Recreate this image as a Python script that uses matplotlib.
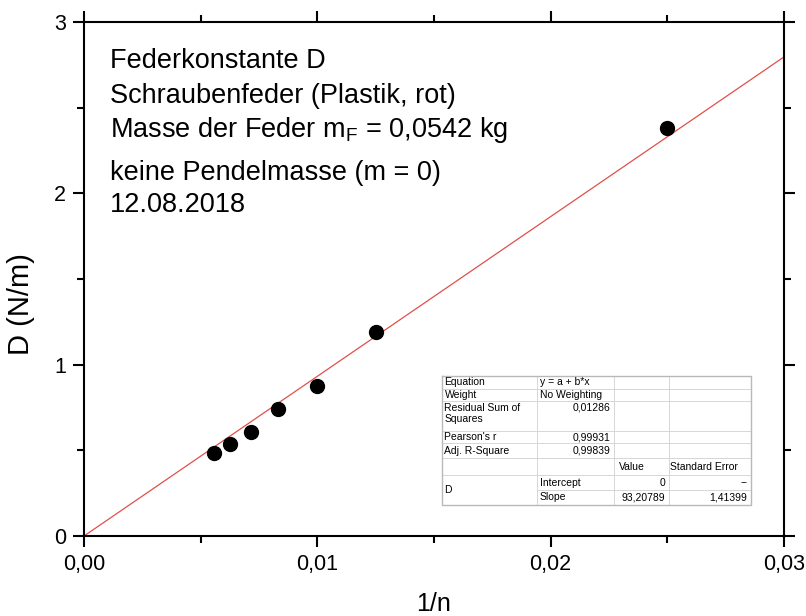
"""Federkonstante D gegen 1/n, Schraubenfeder (Plastik, rot), mit Fit-Tabelle."""
import matplotlib

matplotlib.use("Agg")
import matplotlib.pyplot as plt  # noqa: E402
from matplotlib.ticker import FixedLocator, FuncFormatter, MultipleLocator  # noqa: E402

# Messwerte
inv_n = [1 / 180, 1 / 160, 1 / 140, 1 / 120, 1 / 100, 1 / 80, 1 / 40]
D_vals = [0.486, 0.535, 0.607, 0.740, 0.874, 1.191, 2.382]

# Fit y = a + b*x
fit_intercept = 0.0
fit_slope = 93.20789
fit_x = [0.0, 0.03]

x_ticks = [0.0, 0.01, 0.02, 0.03]
y_ticks = [0, 1, 2, 3]

info_lines = [
    "Federkonstante D",
    "Schraubenfeder (Plastik, rot)",
    r"Masse der Feder m$_\mathregular{F}$ = 0,0542 kg",
    "keine Pendelmasse (m = 0)",
    "12.08.2018",
]

# Tabelle (Zeilen: Spalte1, Spalte2, Spalte3, Spalte4)
tbl_col1 = ["Equation", "Weight", "Residual Sum of\nSquares", "Pearson's r",
            "Adj. R-Square", "", "D", ""]
tbl_col2 = ["y = a + b*x", "No Weighting", "0,01286", "0,99931", "0,99839",
            "", "Intercept", "Slope"]
tbl_col3 = ["", "", "", "", "", "Value", "0", "93,20789"]
tbl_col4 = ["", "", "", "", "", "Standard Error", "--", "1,41399"]

W, H = 806, 616
plt.rcParams["font.family"] = ["Liberation Sans", "DejaVu Sans"]
plt.rcParams["mathtext.fontset"] = "custom"
plt.rcParams["mathtext.rm"] = "Liberation Sans"

fig = plt.figure(figsize=(W / 100, H / 100), dpi=100)
ax_l, ax_r, ax_t, ax_b = 84, 784, 22, 536
ax = fig.add_axes([ax_l / W, 1 - ax_b / H, (ax_r - ax_l) / W, (ax_b - ax_t) / H])

ax.plot(fit_x, [fit_intercept + fit_slope * x for x in fit_x],
        color="#e0504a", linewidth=0.9, zorder=2)
ax.plot(inv_n, D_vals, "o", color="black", markersize=10, zorder=3)

ax.set_xlim(0, 0.03)
ax.set_ylim(0, 3)
ax.xaxis.set_major_locator(FixedLocator(x_ticks))
ax.xaxis.set_minor_locator(MultipleLocator(0.005))
ax.yaxis.set_major_locator(FixedLocator(y_ticks))
ax.yaxis.set_minor_locator(MultipleLocator(0.5))
ax.xaxis.set_major_formatter(FuncFormatter(lambda v, p: f"{v:.2f}".replace(".", ",")))
ax.yaxis.set_major_formatter(FuncFormatter(lambda v, p: f"{v:.0f}"))
ax.tick_params(which="both", direction="out", top=True, right=True,
               width=1.5, labelsize=15.5, pad=5)
ax.tick_params(which="major", length=8)
ax.tick_params(which="minor", length=5)
for s in ax.spines.values():
    s.set_linewidth(1.5)

ax.set_xlabel("1/n", fontsize=18, va="top")
ax.xaxis.set_label_coords(0.5, (ax_b - 592) / (ax_b - ax_t))
ax.set_ylabel("D (N/m)", fontsize=21)
ax.yaxis.set_label_coords((35 - ax_l) / (ax_r - ax_l), (ax_b - 304) / (ax_b - ax_t))

# Beschriftung oben links
baselines = [68, 103, 137, 180, 212]
for txt, by in zip(info_lines, baselines):
    ax.text((110 - ax_l) / (ax_r - ax_l), (ax_b - by) / (ax_b - ax_t), txt,
            transform=ax.transAxes, fontsize=19.5, va="baseline", ha="left")

# Fit-Tabelle, in Pixelkoordinaten gezeichnet
tx = [441.5, 537, 613.5, 668.5, 750.5]
ty = [376, 388.5, 401, 431, 443, 458, 475, 490, 505]
tab = fig.add_axes([tx[0] / W, 1 - ty[-1] / H, (tx[-1] - tx[0]) / W, (ty[-1] - ty[0]) / H])
tab.set_xlim(tx[0], tx[-1])
tab.set_ylim(ty[-1], ty[0])
tab.axis("off")
tab.fill_between([tx[0], tx[-1]], ty[0], ty[-1], color="white", zorder=0)
grid_c = "#d6d6d6"
for i, y in enumerate(ty[1:-1], start=1):
    # zwischen Intercept und Slope ist die erste Spalte verbunden
    x_start = tx[1] if i == 7 else tx[0]
    tab.plot([x_start, tx[-1]], [y, y], color=grid_c, linewidth=0.7)
for x in tx[1:-1]:
    tab.plot([x, x], [ty[0], ty[-1]], color=grid_c, linewidth=0.7)
tab.plot([tx[0], tx[-1], tx[-1], tx[0], tx[0]], [ty[0], ty[0], ty[-1], ty[-1], ty[0]],
         color="#b8b8b8", linewidth=1.0, clip_on=False)

fs = 7.5
for i in range(8):
    y0, y1 = ty[i], ty[i + 1]
    yc = (y0 + y1) / 2
    if i == 2:
        ytop = y0 + 6.5
        tab.text(tx[0] + 3, y0 + 2, tbl_col1[i], fontsize=fs, va="top", ha="left",
                 linespacing=1.15)
        tab.text(tx[2] - 3, ytop, tbl_col2[i], fontsize=fs, va="center", ha="right")
        continue
    if i == 6:
        tab.text(tx[0] + 3, (ty[6] + ty[8]) / 2, tbl_col1[i], fontsize=fs,
                 va="center", ha="left")
    elif tbl_col1[i]:
        tab.text(tx[0] + 3, yc, tbl_col1[i], fontsize=fs, va="center", ha="left")
    if tbl_col2[i]:
        numeric = tbl_col2[i][0].isdigit()
        tab.text(tx[2] - 3 if numeric else tx[1] + 3, yc, tbl_col2[i], fontsize=fs,
                 va="center", ha="right" if numeric else "left")
    if tbl_col3[i]:
        numeric = tbl_col3[i][0].isdigit()
        tab.text(tx[3] - 3 if numeric else tx[2] + 5, yc, tbl_col3[i], fontsize=fs,
                 va="center", ha="right" if numeric else "left")
    if tbl_col4[i]:
        right = tbl_col4[i][0].isdigit() or tbl_col4[i] == "--"
        tab.text(tx[4] - 3 if right else tx[3] + 2, yc, tbl_col4[i], fontsize=fs,
                 va="center", ha="right" if right else "left")

fig.savefig("out.png", dpi=100)
